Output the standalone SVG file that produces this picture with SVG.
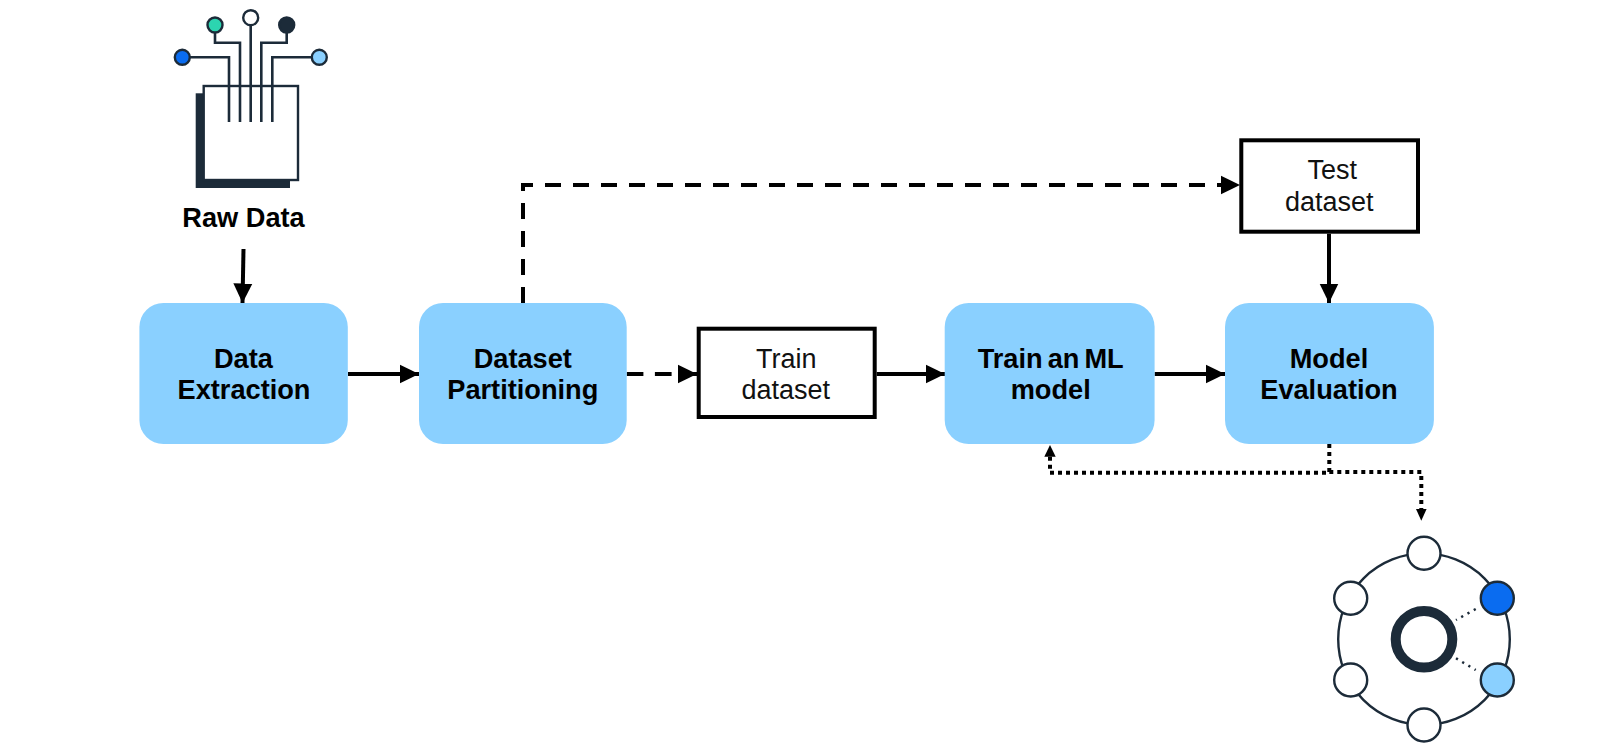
<svg xmlns="http://www.w3.org/2000/svg" width="1598" height="744" viewBox="0 0 1598 744">
<style>
text{font-family:"Liberation Sans",Arial,sans-serif;text-anchor:middle;fill:#000}
.b{font-size:27.200px;font-weight:bold}
.n{font-size:27px;fill:#111}
.box{fill:#8ad0ff}
.ds{fill:#fff;stroke:#000;stroke-width:4}
.c{fill:none;stroke:#000;stroke-width:4}
.d{fill:none;stroke:#000;stroke-width:4;stroke-dasharray:4 4}
.ic{fill:none;stroke:#1c2b39;stroke-width:2.600}
.dot{stroke:#1c2b39;stroke-width:2.400}
.ring{fill:#fff;stroke:#1c2b39;stroke-width:2.400}
</style>
<defs>
<marker id="a" markerUnits="userSpaceOnUse" markerWidth="20" markerHeight="20" refX="19.500" refY="10" orient="auto"><path d="M0 .5L19.500 10L0 19.500Z" fill="#000"/></marker>
</defs>
<rect width="1598" height="744" fill="#fff"/>
<g id="connectors">
<path class="c" d="M243.500 249L242.500 303" marker-end="url(#a)"/>
<path class="c" d="M348 374H419" marker-end="url(#a)"/>
<path class="c" d="M626.700 374H697" stroke-dasharray="16.700 11.500" marker-end="url(#a)"/>
<path class="c" d="M523 303V185H1240" stroke-dasharray="16 12" marker-end="url(#a)"/>
<path class="c" d="M876.700 374H945" marker-end="url(#a)"/>
<path class="c" d="M1154.600 374H1225" marker-end="url(#a)"/>
<path class="c" d="M1329 233.700V303" marker-end="url(#a)"/>
<path class="d" d="M1329.300 444V472.700H1050V456"/>
<path d="M1050 445L1044.300 456.700H1055.700Z" fill="#000"/>
<path class="d" d="M1329.300 472H1421.300V509"/>
<path d="M1416 509H1426.600L1421.300 520.700Z" fill="#000"/>
</g>
<g id="raw-data">
<rect x="195.700" y="93.300" width="94.300" height="94.700" fill="#1c2b39"/>
<rect x="203.700" y="86" width="94.300" height="94" fill="#fff" stroke="#1c2b39" stroke-width="2.400"/>
<path class="ic" d="M188 57.300H229V122M215 31V42.700H240V122M250.700 24V122M286.700 31V42.700H261.300V122M312 57.300H272.300V122"/>
<circle class="dot" cx="182.300" cy="57.300" r="7.500" fill="#0a6cf0"/>
<circle class="dot" cx="215" cy="25" r="7.500" fill="#2cd5b0"/>
<circle class="dot" cx="250.700" cy="17.700" r="7.500" fill="#fff"/>
<circle class="dot" cx="286.700" cy="25" r="7.500" fill="#1c2b39"/>
<circle class="dot" cx="319.300" cy="57.300" r="7.500" fill="#8ad0ff"/>
<text class="b" x="243.500" y="227">Raw Data</text>
</g>
<g id="data-extraction"><rect class="box" x="139.400" y="303" width="208.400" height="141" rx="24"/><text class="b" x="243.400" y="367.700">Data</text><text class="b" x="244" y="399.300">Extraction</text></g>
<g id="dataset-partitioning"><rect class="box" x="419" y="303" width="207.700" height="141" rx="24"/><text class="b" x="522.800" y="367.700">Dataset</text><text class="b" x="522.800" y="399.300">Partitioning</text></g>
<g id="train-dataset"><rect class="ds" x="698.700" y="328.700" width="176" height="88.300"/><text class="n" x="786.300" y="368.300">Train</text><text class="n" x="785.800" y="399.300">dataset</text></g>
<g id="train-model"><rect class="box" x="944.700" y="303" width="209.900" height="141" rx="24"/><text class="b" x="1050.700" y="367.700" word-spacing="-2.500">Train an ML</text><text class="b" x="1050.700" y="399.300">model</text></g>
<g id="model-evaluation"><rect class="box" x="1225" y="303" width="208.900" height="141" rx="24"/><text class="b" x="1329" y="367.700">Model</text><text class="b" x="1329" y="399.300">Evaluation</text></g>
<g id="test-dataset"><rect class="ds" x="1241.300" y="140.300" width="176.700" height="91.400"/><text class="n" x="1332.300" y="179">Test</text><text class="n" x="1329.200" y="211">dataset</text></g>
<g id="model-icon">
<circle cx="1424" cy="639.200" r="85.800" fill="none" stroke="#1c2b39" stroke-width="2.400"/>
<circle cx="1424" cy="639.300" r="28.300" fill="#fff" stroke="#1c2b39" stroke-width="10"/>
<path d="M1475.700 609L1456 620M1456 658.300L1475.700 670" stroke="#1c2b39" stroke-width="2.500" stroke-dasharray="2.200 5" fill="none"/>
<circle class="ring" cx="1424" cy="553.300" r="16.500"/>
<circle class="ring" cx="1350.700" cy="598.300" r="16.500"/>
<circle class="ring" cx="1350.700" cy="680" r="16.500"/>
<circle class="ring" cx="1424" cy="725" r="16.500"/>
<circle class="ring" cx="1497.300" cy="598.300" r="16.500" style="fill:#0a6cf0"/>
<circle class="ring" cx="1497.300" cy="680" r="16.500" style="fill:#8ad0ff"/>
</g>
</svg>
